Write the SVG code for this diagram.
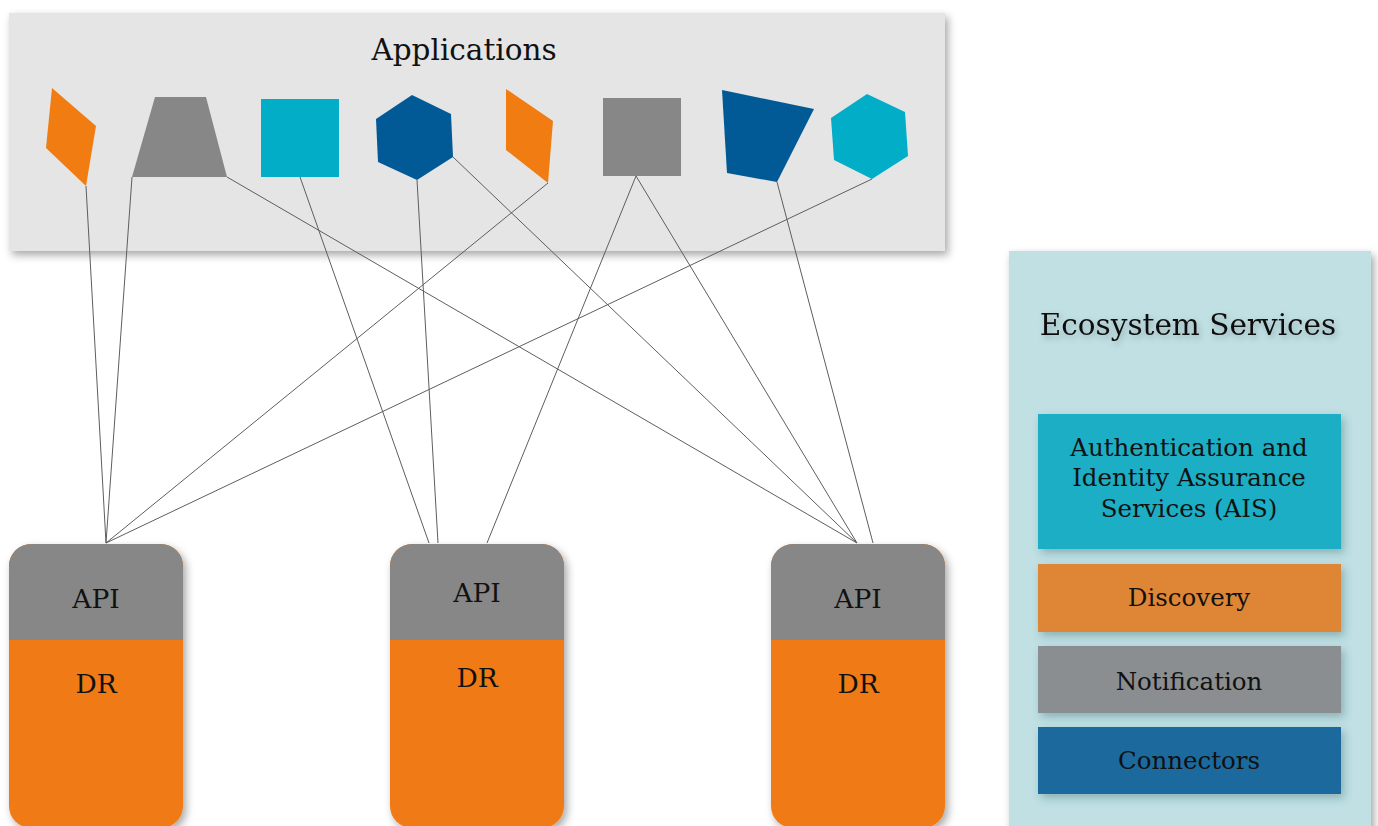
<svg xmlns="http://www.w3.org/2000/svg" width="1378" height="826" viewBox="0 0 1378 826">
<defs>
<filter id="sh" x="-10%" y="-10%" width="130%" height="130%"><feDropShadow dx="3" dy="4" stdDeviation="4" flood-color="#000" flood-opacity="0.35"/></filter>
<filter id="shs" x="-10%" y="-10%" width="130%" height="130%"><feDropShadow dx="3" dy="4" stdDeviation="4" flood-color="#2a5a60" flood-opacity="0.35"/></filter>
<filter id="tsh" x="-10%" y="-30%" width="120%" height="160%"><feDropShadow dx="2" dy="3" stdDeviation="3" flood-color="#000" flood-opacity="0.25"/></filter>
<clipPath id="cl"><rect x="0" y="0" width="1378" height="826"/></clipPath>
</defs>
<style>
text{font-family:"DejaVu Serif","Liberation Serif",serif;fill:#111;text-anchor:middle;dominant-baseline:central}
.big{font-size:29.5px}
.lab{font-size:26.5px}
.svc{font-size:24.5px}
.conn line{stroke:#5e5e5e;stroke-width:1}
.api{fill:#878787}
.dr{fill:#f07a12}
</style>
<g id="applications">
<rect x="9" y="13" width="936" height="238" fill="#e5e5e5" filter="url(#sh)"/>
<text class="big" x="464" y="50">Applications</text>
</g>
<g id="connectors" class="conn">
<line x1="86" y1="186" x2="106" y2="543"/>
<line x1="132" y1="177" x2="106" y2="543"/>
<line x1="548" y1="183" x2="106" y2="543"/>
<line x1="872" y1="179" x2="106" y2="543"/>
<line x1="300" y1="177" x2="429" y2="543"/>
<line x1="417" y1="180" x2="438" y2="543"/>
<line x1="636" y1="176" x2="487" y2="543"/>
<line x1="227" y1="177" x2="857" y2="543"/>
<line x1="453" y1="157" x2="857" y2="543"/>
<line x1="636" y1="176" x2="857" y2="543"/>
<line x1="777" y1="182" x2="873" y2="543"/>
</g>
<g id="app-shapes">
<polygon id="app1" points="52,88 96,126 86,186 46,148" fill="#f07c12"/>
<polygon id="app2" points="155,97 206,97 227,177 132,177" fill="#878787"/>
<rect id="app3" x="261" y="99" width="78" height="78" fill="#02adc8"/>
<polygon id="app4" points="412,95 451,114 453,157 417,180 378,162 376,119" fill="#015a96"/>
<polygon id="app5" points="506,89 553,121 548,183 506,150" fill="#f07c12"/>
<rect id="app6" x="603" y="98" width="78" height="78" fill="#878787"/>
<polygon id="app7" points="722,90 814,109 777,182 727,173" fill="#015a96"/>
<polygon id="app8" points="867,94 905,112 908,156 872,179 834,160 831,118" fill="#02adc8"/>
</g>
<g id="node-left" clip-path="url(#cl)">
<rect x="9" y="544" width="174" height="284" rx="22" class="dr" filter="url(#sh)"/>
<path d="M9,640 V566 A22,22 0 0 1 31,544 H161 A22,22 0 0 1 183,566 V640 Z" class="api"/>
<text class="lab" x="96" y="598">API</text>
<text class="lab" x="96" y="683">DR</text>
</g>
<g id="node-middle" clip-path="url(#cl)">
<rect x="390" y="544" width="174" height="284" rx="22" class="dr" filter="url(#sh)"/>
<path d="M390,640 V566 A22,22 0 0 1 412,544 H542 A22,22 0 0 1 564,566 V640 Z" class="api"/>
<text class="lab" x="477" y="592">API</text>
<text class="lab" x="477" y="677">DR</text>
</g>
<g id="node-right" clip-path="url(#cl)">
<rect x="771" y="544" width="174" height="284" rx="22" class="dr" filter="url(#sh)"/>
<path d="M771,640 V566 A22,22 0 0 1 793,544 H923 A22,22 0 0 1 945,566 V640 Z" class="api"/>
<text class="lab" x="858" y="598">API</text>
<text class="lab" x="858" y="683">DR</text>
</g>
<g id="ecosystem-services">
<rect x="1009" y="251" width="362" height="580" fill="#c0e0e4" filter="url(#sh)"/>
<text class="big" x="1188" y="325" filter="url(#tsh)">Ecosystem Services</text>
</g>
<g id="ais">
<rect x="1038" y="414" width="303" height="135" fill="#1faec4" filter="url(#shs)"/>
<text class="svc" x="1189" y="447">Authentication and</text>
<text class="svc" x="1189" y="477">Identity Assurance</text>
<text class="svc" x="1189" y="508">Services (AIS)</text>
</g>
<g id="discovery">
<rect x="1038" y="564" width="303" height="68" fill="#de8634" filter="url(#shs)"/>
<text class="svc" x="1189" y="597">Discovery</text>
</g>
<g id="notification">
<rect x="1038" y="646" width="303" height="67" fill="#8a8e90" filter="url(#shs)"/>
<text class="svc" x="1189" y="681">Notification</text>
</g>
<g id="connectors-service">
<rect x="1038" y="727" width="303" height="67" fill="#1e6b9d" filter="url(#shs)"/>
<text class="svc" x="1189" y="760">Connectors</text>
</g>
</svg>
